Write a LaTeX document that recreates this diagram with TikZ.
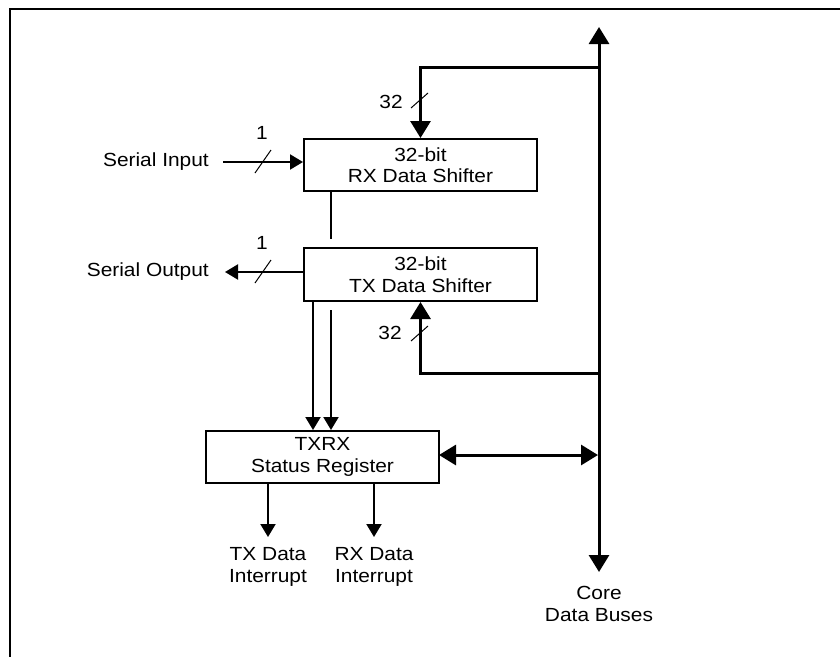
\documentclass[tikz,border=0pt]{standalone}
\usepackage{fontspec}
\setmainfont[FakeStretch=1.1]{Liberation Sans}
\usetikzlibrary{arrows.meta}
\begin{document}
\begin{tikzpicture}[x=1pt,y=-1pt,
  every node/.style={font=\fontsize{19}{21.5}\selectfont, inner sep=0pt},
  blockbox/.style={draw, line width=2pt, minimum width=233pt, minimum height=52pt, align=center},
  lbl/.style={align=center},
  thin/.style={line width=2pt},
  thick/.style={line width=3pt},
  slash/.style={line width=1pt},
  tipS/.style={-{Triangle[length=13pt,width=15pt]}},
  tipL/.style={-{Triangle[length=17pt,width=20pt]}},
  tipLL/.style={{Triangle[length=17pt,width=20pt]}-{Triangle[length=17pt,width=20pt]}}
]
\useasboundingbox (0,0) rectangle (840,656);
\clip (0,0) rectangle (840,656);
% frame
\draw[line width=2pt] (10,670) -- (10,9) -- (850,9);

% blocks
\node[blockbox] (rx) at (420.5,165) {32-bit\\RX Data Shifter};
\node[blockbox, minimum height=53pt] (tx) at (420.5,274.5) {32-bit\\TX Data Shifter};
\node[blockbox] (st) at (322.5,457) {TXRX\\Status Register};

% labels
\node[anchor=east] (sin) at (209,162) {Serial Input};
\node[anchor=east] (sout) at (209,272) {Serial Output};
\node (one1) at (262,133) {1};
\node (one2) at (262,243) {1};
\node (n32a) at (391,102) {32};
\node (n32b) at (390,333) {32};
\node[lbl] (txi) at (268,567) {TX Data\\Interrupt};
\node[lbl] (rxi) at (374,567) {RX Data\\Interrupt};
\node[lbl] (core) at (599,604) {Core\\Data Buses};

% coordinates
\coordinate (bt) at (599,27);
\coordinate (bb) at (599,572);
\coordinate (j1) at (599,67);
\coordinate (j2) at (599,373);
\coordinate (sinS) at (223,162);
\coordinate (soutE) at (225,272);
\coordinate (mid) at (331,239);
\coordinate (a2) at (331,310);
\coordinate (busL) at (598,455);
\coordinate (stR) at (439,455);
\coordinate (ti) at (268,537);
\coordinate (ri) at (374,537);

% core bus
\draw[thick, tipLL] (bt) -- (bb);
\draw[thick, tipL] (j1) -| (rx.north);
\draw[thick, tipL] (j2) -| (tx.south);
\draw[thick, tipLL] (stR) -- (busL);

% serial lines
\draw[thin, tipS] (sinS) -- (sinS -| rx.west);
\draw[thin, tipS] (soutE -| tx.west) -- (soutE);

% rx-tx link
\draw[thin] (rx.south -| mid) -- (mid);

% tx to status
\draw[thin, tipS] (tx.south -| 313,0) -- (st.north -| 313,0);
\draw[thin, tipS] (a2) -- (st.north -| a2);

% status outputs
\draw[thin, tipS] (st.south -| ti) -- (ti);
\draw[thin, tipS] (st.south -| ri) -- (ri);

% bus-width slashes
\draw[slash] (411,108) -- (428,93);
\draw[slash] (411,341) -- (428,326);
\draw[slash] (255,173) -- (271,150);
\draw[slash] (255,283) -- (271,260);
\end{tikzpicture}
\end{document}
